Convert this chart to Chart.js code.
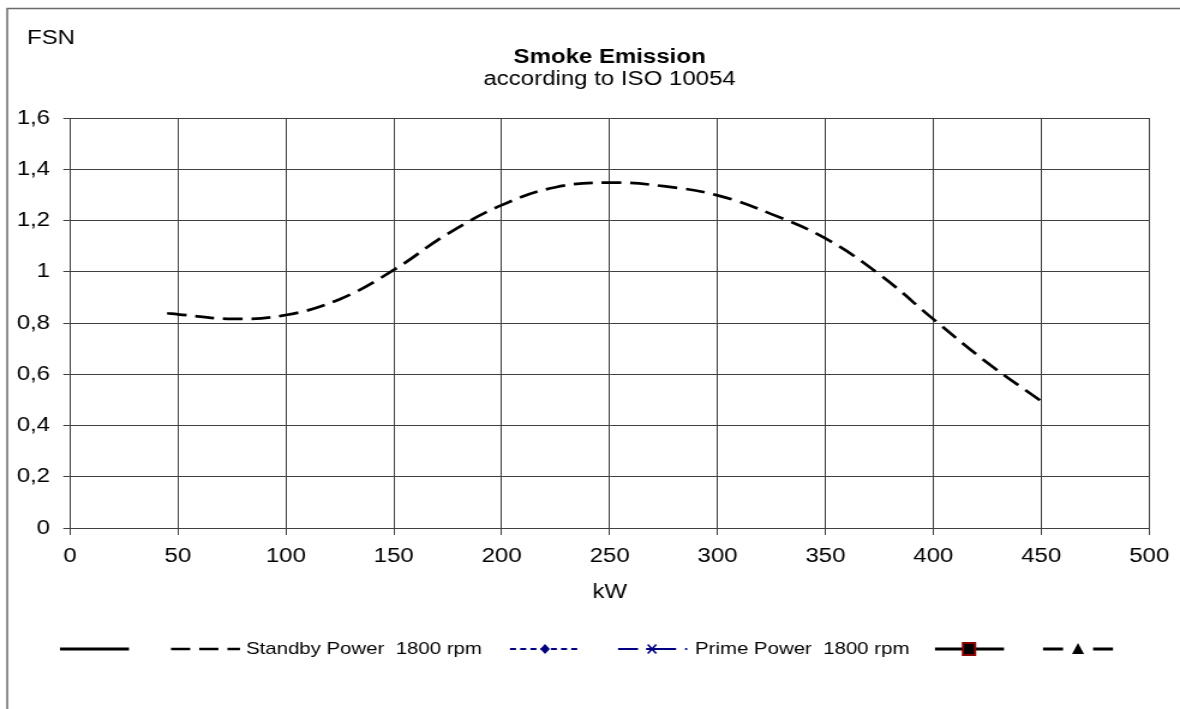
<!DOCTYPE html>
<html>
<head>
<meta charset="utf-8">
<script src="https://cdn.jsdelivr.net/npm/chart.js@4.4.1/dist/chart.umd.min.js"></script>
<style>
  html, body { margin: 0; padding: 0; background: #fff; overflow: hidden; }
  #chart { display: block; }
</style>
</head>
<body>
<!-- the reference is stretched sideways, so the canvas is drawn narrow and widened by its inline style -->
<canvas id="chart" width="983" height="709" style="width:1180px;height:709px"></canvas>
<script>
const powerKW = [45, 50, 75, 100, 125, 150, 175, 200, 225, 250, 275, 300, 325, 350, 375, 400, 425, 450];
const standbyFSN = [0.838, 0.834, 0.816, 0.831, 0.893, 1.007, 1.148, 1.26, 1.33, 1.348, 1.334, 1.298, 1.225, 1.13, 0.99, 0.815, 0.645, 0.495];
const xTicks = [0, 50, 100, 150, 200, 250, 300, 350, 400, 450, 500];
const yTicks = [0, 0.2, 0.4, 0.6, 0.8, 1, 1.2, 1.4, 1.6];
const yTickLabels = ['0', '0,2', '0,4', '0,6', '0,8', '1', '1,2', '1,4', '1,6'];
const seriesLabels = ['', 'Standby Power  1800 rpm', '', 'Prime Power  1800 rpm', '', ''];

const SX = 1180 / 983;
const FONT = '"Liberation Sans", Arial, Helvetica, sans-serif';
const GRID = '#404040';

const points = powerKW.map((x, i) => ({ x, y: standbyFSN[i] }));

const datasets = [
  { label: seriesLabels[0], data: [], borderColor: '#000', borderWidth: 3, borderDash: [], pointStyle: false },
  { label: seriesLabels[1], data: points, borderColor: '#000', borderWidth: 2.7, borderDash: [16, 7.5], pointStyle: false, tension: 0.4 },
  { label: seriesLabels[2], data: [], borderColor: '#000080', borderWidth: 2, borderDash: [5, 3.5], pointStyle: 'rectRot', pointBackgroundColor: '#000080', pointBorderColor: '#000080' },
  { label: seriesLabels[3], data: [], borderColor: '#000080', borderWidth: 2, borderDash: [16.7, 6.7, 25, 7.5, 1.7, 10], pointStyle: 'crossRot', pointBackgroundColor: '#000080', pointBorderColor: '#000080' },
  { label: seriesLabels[4], data: [], borderColor: '#000', borderWidth: 3, borderDash: [], pointStyle: 'rect', pointBackgroundColor: '#000', pointBorderColor: '#8b0000' },
  { label: seriesLabels[5], data: [], borderColor: '#000', borderWidth: 3, borderDash: [16.7, 25], pointStyle: 'triangle', pointBackgroundColor: '#000', pointBorderColor: '#000' }
];

// legend slots, page pixels: line from..to, marker centre, text start
const slots = [
  { from: 60, to: 129 },
  { from: 171, to: 240, text: 246 },
  { from: 510, to: 580, mark: 545 },
  { from: 618, to: 688, mark: 652, text: 695 },
  { from: 935, to: 1004, mark: 969 },
  { from: 1043, to: 1113, mark: 1078 }
];

function drawMark(ctx, ds, x, y) {
  ctx.save();
  ctx.fillStyle = ds.pointBackgroundColor;
  ctx.strokeStyle = ds.pointBorderColor;
  ctx.setLineDash([]);
  ctx.beginPath();
  if (ds.pointStyle === 'rectRot') {
    ctx.moveTo(x, y - 5); ctx.lineTo(x + 4, y); ctx.lineTo(x, y + 5); ctx.lineTo(x - 4, y);
    ctx.closePath(); ctx.fill();
  } else if (ds.pointStyle === 'crossRot') {
    ctx.lineWidth = 1.6;
    ctx.moveTo(x - 3.5, y - 4.5); ctx.lineTo(x + 3.5, y + 4.5);
    ctx.moveTo(x + 3.5, y - 4.5); ctx.lineTo(x - 3.5, y + 4.5);
    ctx.stroke();
  } else if (ds.pointStyle === 'rect') {
    ctx.lineWidth = 2;
    ctx.rect(x - 5, y - 6, 10, 12);
    ctx.fill(); ctx.stroke();
  } else if (ds.pointStyle === 'triangle') {
    ctx.moveTo(x, y - 6); ctx.lineTo(x + 5, y + 5); ctx.lineTo(x - 5, y + 5);
    ctx.closePath(); ctx.fill();
  }
  ctx.restore();
}

const decorations = {
  id: 'decorations',
  afterDraw(chart) {
    const ctx = chart.ctx;
    const area = chart.chartArea;
    const mid = (area.left + area.right) / 2;
    ctx.save();

    // outer frame, only left and top show in the reference
    ctx.strokeStyle = '#6a6a6a';
    ctx.lineWidth = 1.5;
    ctx.beginPath();
    ctx.moveTo(6, 709); ctx.lineTo(6, 8.5); ctx.lineTo(983, 8.5);
    ctx.stroke();

    ctx.fillStyle = '#000';
    ctx.textBaseline = 'middle';
    ctx.textAlign = 'center';
    ctx.font = 'bold 20px ' + FONT;
    ctx.fillText('Smoke Emission', mid, 57);
    ctx.font = '20px ' + FONT;
    ctx.fillText('according to ISO 10054', mid, 79);
    ctx.fillText('kW', mid, 592);
    ctx.textAlign = 'left';
    ctx.fillText('FSN', 27 / SX, 38);

    // legend
    const ly = 649;
    chart.data.datasets.forEach((ds, i) => {
      const s = slots[i];
      ctx.strokeStyle = ds.borderColor;
      ctx.lineWidth = ds.borderWidth;
      ctx.lineCap = 'butt';
      ctx.setLineDash(ds.borderDash);
      ctx.beginPath();
      ctx.moveTo(s.from / SX, ly);
      ctx.lineTo(s.to / SX, ly);
      ctx.stroke();
      ctx.setLineDash([]);
      if (s.mark) drawMark(ctx, ds, s.mark / SX, ly);
      if (s.text && ds.label) {
        ctx.fillStyle = '#000';
        ctx.font = '17px ' + FONT;
        ctx.textAlign = 'left';
        ctx.fillText(ds.label, s.text / SX, ly);
      }
    });
    ctx.restore();
  }
};

new Chart(document.getElementById('chart'), {
  type: 'line',
  data: { datasets },
  options: {
    responsive: false,
    animation: false,
    devicePixelRatio: 1,
    layout: { padding: { top: 118, right: 25, left: 0, bottom: 0 } },
    plugins: { legend: { display: false }, tooltip: { enabled: false }, title: { display: false } },
    scales: {
      x: {
        type: 'linear', min: 0, max: 500,
        afterBuildTicks: s => { s.ticks = xTicks.map(v => ({ value: v })); },
        afterFit: s => { s.height = 181; },
        grid: { color: GRID, lineWidth: 1, tickLength: 7, tickColor: GRID },
        border: { color: GRID, width: 1 },
        ticks: { color: '#000', font: { family: FONT, size: 20 }, padding: 9, maxRotation: 0, autoSkip: false,
                 callback: v => String(v) }
      },
      y: {
        type: 'linear', min: 0, max: 1.6,
        afterBuildTicks: s => { s.ticks = yTicks.map(v => ({ value: v })); },
        afterFit: s => { s.width = 70 / SX; },
        grid: { color: GRID, lineWidth: 1, tickLength: 5.6, tickColor: GRID },
        border: { color: GRID, width: 1 },
        ticks: { color: '#000', font: { family: FONT, size: 20 }, padding: 11, autoSkip: false,
                 callback: v => yTickLabels[yTicks.findIndex(t => Math.abs(t - v) < 1e-6)] }
      }
    }
  },
  plugins: [decorations]
});
</script>
</body>
</html>
